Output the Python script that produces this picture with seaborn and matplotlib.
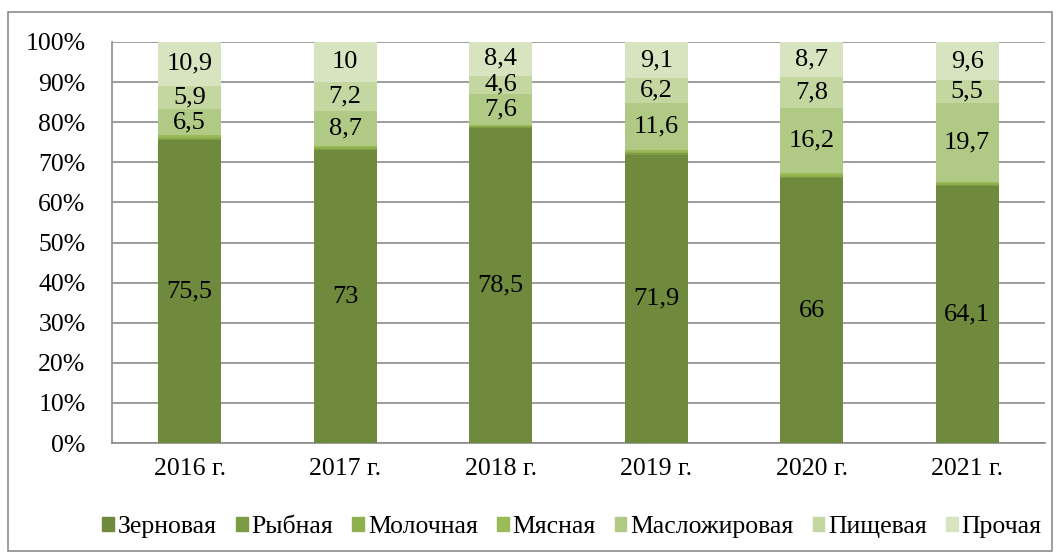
import matplotlib
matplotlib.use("Agg")
import matplotlib.pyplot as plt
from matplotlib.patches import Rectangle
import numpy as np
import pandas as pd
import seaborn as sns

years = ["2016 г.", "2017 г.", "2018 г.", "2019 г.", "2020 г.", "2021 г."]
series = ["Зерновая", "Рыбная", "Молочная", "Мясная", "Масложировая", "Пищевая", "Прочая"]

zernovaya = [75.5, 73.0, 78.5, 71.9, 66.0, 64.1]
rybnaya = [0.3, 0.3, 0.2, 0.3, 0.3, 0.3]
molochnaya = [0.4, 0.4, 0.3, 0.4, 0.5, 0.4]
myasnaya = [0.5, 0.4, 0.4, 0.5, 0.5, 0.4]
maslozhirovaya = [6.5, 8.7, 7.6, 11.6, 16.2, 19.7]
pishchevaya = [5.9, 7.2, 4.6, 6.2, 7.8, 5.5]
prochaya = [10.9, 10.0, 8.4, 9.1, 8.7, 9.6]

labelled = {"Зерновая", "Масложировая", "Пищевая", "Прочая"}

colors = ["#6f8a3c", "#7d9b44", "#8fb04f", "#9bbb59", "#b0ca85", "#c5d7a1", "#d8e4bf"]

values = [zernovaya, rybnaya, molochnaya, myasnaya, maslozhirovaya, pishchevaya, prochaya]
df = pd.DataFrame({name: vals for name, vals in zip(series, values)}, index=years)
share = df.div(df.sum(axis=1), axis=0) * 100
cum = share.cumsum(axis=1)

plt.rcParams["font.family"] = ["Liberation Serif", "DejaVu Serif"]
fig = plt.figure(figsize=(10.61, 5.59), dpi=100)
ax = fig.add_axes([112 / 1061, 1 - 443 / 559, (1045 - 112) / 1061, (443 - 42) / 559])

# outer frame of the chart
fig.patches.append(Rectangle((8 / 1061, 8 / 559), (1052 - 8) / 1061, (547 - 8) / 559,
                             transform=fig.transFigure, fill=False,
                             edgecolor="#8c8c8c", linewidth=1.2))

# stacked bars: draw cumulative totals from the top layer down
for i in range(len(series) - 1, -1, -1):
    name = series[i]
    d = pd.DataFrame({"year": years, "value": cum[name].values})
    sns.barplot(data=d, x="year", y="value", color=colors[i], width=0.405,
                saturation=1, ax=ax, zorder=3, linewidth=0)

for i, name in enumerate(series):
    if name not in labelled:
        continue
    for j, y in enumerate(years):
        v = df.loc[y, name]
        mid = cum.loc[y, name] - share.loc[y, name] / 2
        txt = f"{v:g}".replace(".", ",")
        ax.text(j, mid, txt, ha="center", va="center", fontsize=19, color="black", zorder=5)

ax.set_ylim(0, 100)
ax.set_xlim(-0.5, 5.5)
ax.set_yticks(np.arange(0, 101, 10))
ax.set_yticklabels([f"{t}%" for t in range(0, 101, 10)])
ax.yaxis.grid(True, color="#8c8c8c", linewidth=1.2, zorder=0)
ax.set_axisbelow(True)
ax.tick_params(axis="both", length=0, labelsize=18.5, colors="black")
ax.tick_params(axis="y", pad=19)
ax.tick_params(axis="x", pad=11)
ax.set_xlabel("")
ax.set_ylabel("")
for side in ["top", "right"]:
    ax.spines[side].set_visible(False)
for side in ["left", "bottom"]:
    ax.spines[side].set_color("#8c8c8c")
    ax.spines[side].set_linewidth(1.2)

handles = [Rectangle((0, 0), 1, 1, color=c) for c in colors]
fig.legend(handles, series, loc="center", bbox_to_anchor=(572 / 1061, 1 - 527 / 559),
           ncol=7, frameon=False, fontsize=18.5, handlelength=0.45, handleheight=0.45,
           handletextpad=0.15, columnspacing=0.75)

fig.savefig("out.png", dpi=100)
